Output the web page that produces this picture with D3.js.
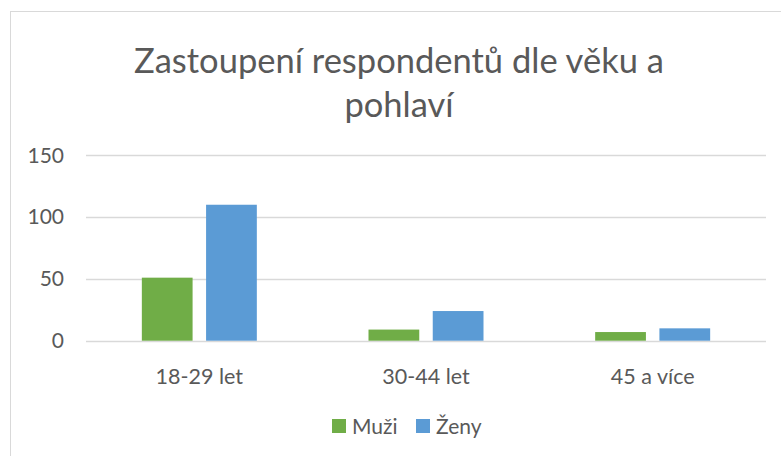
<!DOCTYPE html>
<html>
<head>
<meta charset="utf-8">
<script src="https://cdn.jsdelivr.net/npm/d3@7"></script>
<style>
  body { margin: 0; background: #fff; }
  svg { display: block; font-family: Lato, "Open Sans", sans-serif; }
  .grid line { stroke: #d9d9d9; stroke-width: 1.3; }
  text { fill: #595959; }
</style>
</head>
<body>
<svg id="chart" width="781" height="456"></svg>
<script>
// data
const categories = ["18-29 let", "30-44 let", "45 a více"];
const seriesNames = ["Muži", "Ženy"];
const muzi = [51, 9, 7];
const zeny = [110, 24, 10];
const yTicks = [0, 50, 100, 150];
const colors = ["#70ad47", "#5b9bd5"];

const titleLines = ["Zastoupení respondentů dle věku a", "pohlaví"];

const svg = d3.select("#chart");

// chart area border (runs off the right and bottom edge)
svg.append("rect")
  .attr("x", 10.5).attr("y", 11.5)
  .attr("width", 790).attr("height", 460)
  .attr("fill", "#fff").attr("stroke", "#d9d9d9");

const plotL = 86, plotR = 766, plotT = 155.3, plotB = 340.7;

const y = d3.scaleLinear().domain([0, 150]).range([plotB, plotT]);
const x0 = d3.scaleBand().domain(categories).range([plotL, plotR]).padding(0);
// bars take about half the band, centered
const groupW = 115;
const x1 = d3.scaleBand().domain(seriesNames).range([0, groupW]).paddingInner(0.21);

// gridlines
svg.append("g").attr("class", "grid")
  .selectAll("line").data(yTicks).join("line")
  .attr("x1", plotL).attr("x2", plotR)
  .attr("y1", (d) => Math.round(y(d)) + 0.5)
  .attr("y2", (d) => Math.round(y(d)) + 0.5);

// y tick labels
svg.append("g")
  .selectAll("text").data(yTicks).join("text")
  .attr("x", 64).attr("y", (d) => y(d))
  .attr("dy", "0.35em")
  .attr("text-anchor", "end")
  .style("font-size", "21px")
  .text((d) => d);

// bars
const rows = categories.map((c, i) => ({ cat: c, vals: [muzi[i], zeny[i]] }));
const groups = svg.append("g").selectAll("g").data(rows).join("g")
  .attr("transform", (d) => `translate(${x0(d.cat) + (x0.bandwidth() - groupW) / 2},0)`);
groups.selectAll("rect")
  .data((d) => d.vals.map((v, j) => ({ name: seriesNames[j], v, j })))
  .join("rect")
  .attr("x", (d) => x1(d.name))
  .attr("width", x1.bandwidth())
  .attr("y", (d) => y(d.v))
  .attr("height", (d) => y(0) - y(d.v))
  .attr("fill", (d) => colors[d.j]);

// category labels
svg.append("g")
  .selectAll("text").data(categories).join("text")
  .attr("x", (d) => x0(d) + x0.bandwidth() / 2)
  .attr("y", 384)
  .attr("text-anchor", "middle")
  .style("font-size", "21.5px")
  .text((d) => d);

// title
svg.append("g")
  .selectAll("text").data(titleLines).join("text")
  .attr("x", 399)
  .attr("y", (d, i) => 73 + i * 43.5)
  .attr("text-anchor", "middle")
  .style("font-size", "34.5px")
  .text((d) => d);

// legend
const legend = svg.append("g");
const legX = [332, 416];
seriesNames.forEach((name, i) => {
  legend.append("rect")
    .attr("x", legX[i]).attr("y", 419)
    .attr("width", 14).attr("height", 14)
    .attr("fill", colors[i]);
  legend.append("text")
    .attr("x", legX[i] + 20).attr("y", 434)
    .style("font-size", "21px")
    .text(name);
});
</script>
</body>
</html>
